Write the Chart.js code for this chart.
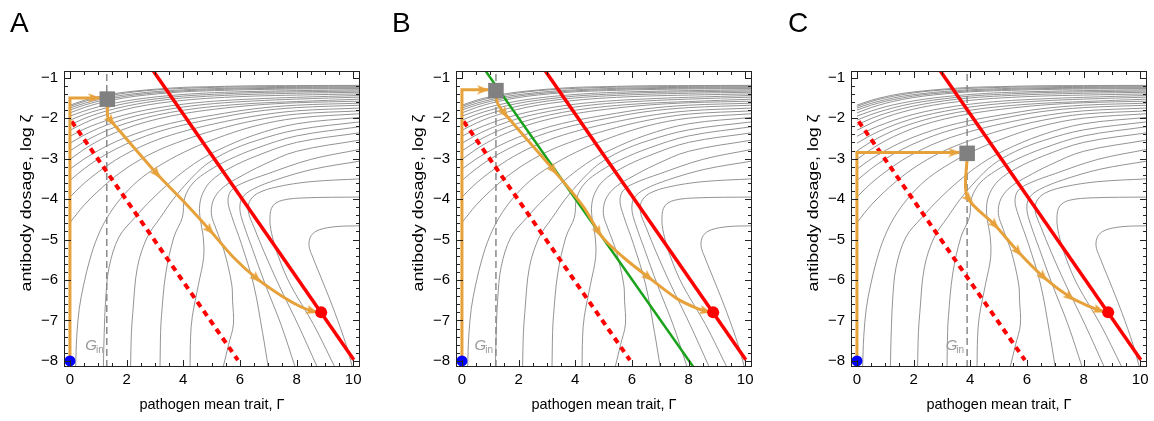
<!DOCTYPE html>
<html>
<head>
<meta charset="utf-8">
<script src="https://cdn.jsdelivr.net/npm/chart.js@4.4.1/dist/chart.umd.min.js"></script>
<style>
  html, body { margin: 0; padding: 0; background: #fff; overflow: hidden; }
  body { width: 1154px; height: 421px; position: relative; font-family: "Liberation Sans", Arial, sans-serif; }
  .panel { position: absolute; top: 0; width: 392px; height: 421px; }
  .letter { position: absolute; top: 9px; font-size: 28px; line-height: 28px; color: #000; }
</style>
</head>
<body>
<div class="panel" style="left:0px"><canvas id="chartA" width="392" height="421"></canvas></div>
<div class="panel" style="left:392px"><canvas id="chartB" width="392" height="421"></canvas></div>
<div class="panel" style="left:787px"><canvas id="chartC" width="392" height="421"></canvas></div>
<div class="letter" style="left:10px">A</div>
<div class="letter" style="left:392px">B</div>
<div class="letter" style="left:788px">C</div>
<script>
(function() {
    'use strict';

    // ===== AXES =====
    const xTicks = [0, 2, 4, 6, 8, 10];
    const yTicks = [-8, -7, -6, -5, -4, -3, -2, -1];
    const xTitle = 'pathogen mean trait, \u0393';
    const yTitle = 'antibody dosage, log \u03b6';

    // ===== GRAY FLOW LINES (same in all panels) =====
    const contourLines = [
        [[0,-1.68],[0.5,-1.56],[1,-1.47],[1.6,-1.39],[2.3,-1.33],[3.1,-1.28],[4,-1.24],[5.1,-1.22],[6.5,-1.2],[8,-1.195],[10.25,-1.19]],
        [[0,-1.71],[0.5,-1.59],[1,-1.5],[1.6,-1.42],[2.3,-1.35],[3.1,-1.3],[4,-1.265],[5.1,-1.24],[6.5,-1.225],[8,-1.215],[10.25,-1.21]],
        [[0,-1.75],[0.5,-1.635],[1,-1.545],[1.6,-1.46],[2.3,-1.395],[3.1,-1.34],[4,-1.3],[5.1,-1.27],[6.5,-1.25],[8,-1.24],[10.25,-1.23]],
        [[0,-1.8],[0.5,-1.68],[1,-1.585],[1.6,-1.5],[2.3,-1.425],[3.1,-1.37],[4,-1.325],[5.1,-1.295],[6.5,-1.27],[8,-1.26],[10.25,-1.25]],
        [[0,-1.87],[0.5,-1.74],[1,-1.635],[1.6,-1.54],[2.3,-1.46],[3.1,-1.4],[4,-1.35],[5.1,-1.32],[6.5,-1.295],[8,-1.28],[10.25,-1.27]],
        [[0,-1.95],[0.5,-1.825],[1,-1.72],[1.6,-1.625],[2.3,-1.54],[3.1,-1.47],[4,-1.415],[5.1,-1.37],[6.5,-1.34],[8,-1.32],[10.25,-1.3]],
        [[0,-2.05],[0.5,-1.91],[1,-1.8],[1.6,-1.69],[2.3,-1.595],[3.1,-1.52],[4,-1.455],[5.1,-1.41],[6.5,-1.37],[8,-1.35],[10.25,-1.33]],
        [[0,-2.17],[0.5,-2.01],[1,-1.885],[1.6,-1.765],[2.3,-1.66],[3.1,-1.57],[4,-1.5],[5.1,-1.45],[6.5,-1.41],[8,-1.385],[10.25,-1.36]],
        [[0,-2.3],[0.5,-2.125],[1,-1.98],[1.6,-1.85],[2.3,-1.73],[3.1,-1.635],[4,-1.56],[5.1,-1.5],[6.5,-1.455],[8,-1.43],[10.25,-1.4]],
        [[0,-2.45],[0.5,-2.27],[1,-2.13],[1.6,-1.985],[2.3,-1.855],[3.1,-1.745],[4,-1.655],[5.1,-1.58],[6.5,-1.525],[8,-1.485],[10.25,-1.44]],
        [[0,-2.62],[0.5,-2.42],[1,-2.255],[1.6,-2.095],[2.3,-1.95],[3.1,-1.83],[4,-1.725],[5.1,-1.64],[6.5,-1.575],[8,-1.53],[10.25,-1.48]],
        [[0,-2.81],[0.5,-2.585],[1,-2.4],[1.6,-2.22],[2.3,-2.06],[3.1,-1.92],[4,-1.805],[5.1,-1.71],[6.5,-1.635],[8,-1.59],[10.25,-1.53]],
        [[0,-3.02],[0.5,-2.77],[1,-2.56],[1.6,-2.36],[2.3,-2.175],[3.1,-2.02],[4,-1.89],[5.1,-1.78],[6.5,-1.68],[8,-1.62],[10.25,-1.58]],
        [[0,-3.26],[0.5,-3.01],[1,-2.8],[1.6,-2.585],[2.3,-2.39],[3.1,-2.21],[4,-2.06],[5.1,-1.92],[6.5,-1.77],[8,-1.68],[10.25,-1.63]],
        [[0,-3.54],[0.5,-3.25],[1,-3.01],[1.6,-2.77],[2.3,-2.545],[3.1,-2.34],[4,-2.17],[5.1,-2.01],[6.5,-1.84],[8,-1.74],[10.25,-1.68]],
        [[0,-3.95],[0.5,-3.61],[1,-3.33],[1.6,-3.04],[2.3,-2.77],[3.1,-2.53],[4,-2.33],[5.1,-2.14],[6.5,-1.95],[8,-1.82],[10.25,-1.75]],
        [[0,-4.58],[0.5,-4.15],[1,-3.8],[1.6,-3.44],[2.3,-3.1],[3.1,-2.8],[4,-2.55],[5.1,-2.3],[6.5,-2.06],[8,-1.9],[10.25,-1.82]],
        [[0.2,-8.15],[0.24,-7.4],[0.33,-6.7],[0.49,-6.1],[0.7,-5.5],[0.97,-4.94],[1.32,-4.45],[1.8,-3.98],[2.4,-3.55],[3.1,-3.2],[4,-2.85],[5.1,-2.52],[6.5,-2.2],[8,-2],[10.25,-1.89]],
        [[1.18,-8.15],[1.21,-7.3],[1.26,-6.5],[1.38,-5.69],[1.73,-4.94],[2.3,-4.45],[2.9,-4],[3.6,-3.55],[4.4,-3.12],[5.2,-2.8],[6.5,-2.42],[8,-2.14],[10.25,-1.98]],
        [[2.14,-8.15],[2.17,-7.3],[2.22,-6.8],[2.38,-5.69],[2.73,-4.94],[3.2,-4.45],[3.65,-4],[4.2,-3.55],[4.8,-3.15],[5.6,-2.82],[6.6,-2.55],[8,-2.29],[10.25,-2.09]],
        [[3.18,-8.15],[3.2,-7.3],[3.23,-6.9],[3.38,-5.85],[3.67,-4.94],[3.97,-4.45],[4.05,-3.97],[4.35,-3.6],[4.9,-3.3],[5.6,-3.03],[6.6,-2.74],[8,-2.44],[10.25,-2.21]],
        [[4.24,-8.15],[4.26,-7.4],[4.32,-6.9],[4.54,-6.1],[4.72,-5.44],[4.7,-4.9],[4.6,-4.5],[4.58,-4.15],[4.7,-3.84],[5,-3.54],[5.6,-3.25],[6.6,-2.93],[8,-2.6],[10.25,-2.36]],
        [[5.41,-8.15],[5.6,-7.6],[5.77,-7.1],[5.74,-6.5],[5.71,-6.1],[5.45,-5.3],[5.15,-4.72],[5.0,-4.4],[5.02,-4.12],[5.18,-3.88],[5.5,-3.66],[6,-3.45],[6.8,-3.16],[8,-2.82],[10.25,-2.54]],
        [[7,-8.15],[6.8,-7.3],[6.48,-6.1],[6.05,-5.1],[5.7,-4.4],[5.58,-4.05],[5.68,-3.8],[6.05,-3.62],[7,-3.37],[8.5,-3.02],[10.25,-2.77]],
        [[7.95,-8.15],[7.45,-7.1],[6.89,-6.1],[6.45,-5.25],[6.12,-4.6],[6.0,-4.25],[6.08,-3.97],[6.45,-3.76],[7.3,-3.52],[8.6,-3.26],[10.25,-3.06]],
        [[8.73,-8.15],[8.05,-7.1],[7.36,-6.1],[6.85,-5.3],[6.5,-4.7],[6.3,-4.32],[6.34,-4.06],[6.62,-3.86],[7.3,-3.7],[8.5,-3.57],[10.25,-3.5]],
        [[9.35,-8.15],[8.6,-7.1],[7.77,-6.1],[7.35,-5.4],[7.12,-4.85],[7.06,-4.46],[7.16,-4.17],[7.5,-4.03],[8.3,-3.97],[10.25,-3.95]],
        [[9.97,-8.15],[9.75,-7.6],[9.35,-6.8],[8.9,-6],[8.58,-5.45],[8.44,-5.15],[8.52,-4.9],[8.8,-4.76],[9.4,-4.68],[10.25,-4.66]]
    ];

    // ===== SHARED LINES AND POINTS =====
    const redLine = [[2.88, -0.77], [10.02, -7.97]];
    const redDashed = [[0.06, -2.08], [5.93, -7.98]];
    const greenLine = [[0.81, -0.81], [8.17, -8.15]];
    const startPoint = [[0, -8]];
    const endPoint = [[8.87, -6.8]];

    // ===== PANEL A =====
    const ginA = 1.3;
    const squareA = [[1.32, -1.53]];
    const legA = [[0, -8], [0, -1.5], [1.05, -1.5]];
    const descentA = [[1.33,-1.6],[1.33,-1.96],[1.45,-2.07],[3.06,-3.37],[4,-4.05],[4.94,-4.77],[5.76,-5.43],[6.59,-5.96],[7.53,-6.42],[8.2,-6.68],[8.59,-6.77],[8.87,-6.8]];
    const arrowsA = [[0.86,-1.5],[1.45,-2.07],[3.06,-3.37],[4.94,-4.77],[6.59,-5.96],[8.55,-6.77]];

    // ===== PANEL B =====
    const ginB = 1.2;
    const squareB = [[1.2, -1.32]];
    const legB = [[0, -8], [0, -1.3], [0.93, -1.3]];
    const descentB = [[1.22,-1.42],[1.25,-1.62],[1.5,-1.88],[3.23,-3.28],[4.29,-4.19],[4.82,-4.81],[5.11,-5.06],[5.8,-5.5],[6.58,-5.93],[7.59,-6.46],[8.3,-6.7],[8.65,-6.77],[8.87,-6.8]];
    const arrowsB = [[0.75,-1.3],[1.5,-1.88],[3.23,-3.28],[4.82,-4.81],[6.58,-5.93],[8.6,-6.77]];

    // ===== PANEL C =====
    const ginC = 3.89;
    const squareC = [[3.89, -2.87]];
    const legC = [[0, -8], [0, -2.85], [3.62, -2.85]];
    const descentC = [[3.89,-2.95],[3.89,-3.94],[4.87,-4.64],[5.69,-5.3],[6.58,-5.92],[7.52,-6.42],[8.2,-6.65],[8.58,-6.75],[8.87,-6.8]];
    const arrowsC = [[3.44,-2.85],[3.95,-3.99],[4.87,-4.64],[5.69,-5.3],[6.58,-5.92],[7.52,-6.42],[8.55,-6.75]];

    const ORANGE = '#e6a13a';
    const FONT = '"Liberation Sans", Arial, sans-serif';

    // arrow head, pointing up, used as point style
    const arrowImg = document.createElement('canvas');
    arrowImg.width = 10;
    arrowImg.height = 12;
    const g = arrowImg.getContext('2d');
    g.fillStyle = ORANGE;
    g.beginPath();
    g.moveTo(5, 0);
    g.lineTo(9.6, 12);
    g.lineTo(5, 9);
    g.lineTo(0.4, 12);
    g.closePath();
    g.fill();

    function arrowAngle(c, paths) {
        if (!c.raw) return 0;
        const xs = c.chart.scales.x, ys = c.chart.scales.y;
        const px = xs.getPixelForValue(c.raw[0]), py = ys.getPixelForValue(c.raw[1]);
        let best = [1, 0], bd = Infinity;
        paths.forEach(path => {
            for (let i = 0; i < path.length - 1; i++) {
                const ax = xs.getPixelForValue(path[i][0]), ay = ys.getPixelForValue(path[i][1]);
                const dx = xs.getPixelForValue(path[i + 1][0]) - ax;
                const dy = ys.getPixelForValue(path[i + 1][1]) - ay;
                const L = dx * dx + dy * dy;
                if (!L) continue;
                let t = ((px - ax) * dx + (py - ay) * dy) / L;
                t = Math.max(0, Math.min(1, t));
                const d = Math.hypot(px - ax - t * dx, py - ay - t * dy);
                if (d < bd) { bd = d; best = [dx, dy]; }
            }
        });
        return Math.atan2(best[0], -best[1]) * 180 / Math.PI;
    }

    function line(data, color, width, order, extra) {
        return Object.assign({
            data: data, showLine: true, borderColor: color, borderWidth: width,
            pointRadius: 0, fill: false, tension: 0, order: order
        }, extra || {});
    }

    function dot(data, color, radius, order, extra) {
        return Object.assign({
            data: data, showLine: false, pointRadius: radius, pointBackgroundColor: color,
            pointBorderWidth: 0, order: order
        }, extra || {});
    }

    // ===== FRAME WITH INNER TICKS =====
    const framePlugin = {
        id: 'frame',
        afterDatasetsDraw(chart) {
            const {ctx, chartArea: a, scales: {x, y}} = chart;
            ctx.save();
            ctx.strokeStyle = '#222';
            ctx.lineWidth = 1;
            ctx.strokeRect(a.left + 0.5, a.top + 0.5, a.right - a.left - 1, a.bottom - a.top - 1);
            ctx.beginPath();
            for (let i = 0; i <= 20; i++) {
                const v = i * 0.5;
                const len = xTicks.includes(v) ? 7 : 4;
                const p = Math.round(x.getPixelForValue(v)) + 0.5;
                ctx.moveTo(p, a.bottom); ctx.lineTo(p, a.bottom - len);
                ctx.moveTo(p, a.top); ctx.lineTo(p, a.top + len);
            }
            for (let i = 0; i <= 35; i++) {
                const v = -8 + i * 0.2;
                const len = Math.abs(v - Math.round(v)) < 1e-6 ? 7 : 4;
                const p = Math.round(y.getPixelForValue(v)) + 0.5;
                ctx.moveTo(a.left, p); ctx.lineTo(a.left + len, p);
                ctx.moveTo(a.right, p); ctx.lineTo(a.right - len, p);
            }
            ctx.stroke();

            // y axis title, drawn a bit stretched along its length like the original
            ctx.fillStyle = '#000';
            ctx.font = '14px ' + FONT;
            ctx.textAlign = 'center';
            ctx.textBaseline = 'middle';
            ctx.translate(27, 203);
            ctx.rotate(-Math.PI / 2);
            ctx.scale(1.27, 1);
            ctx.fillText(yTitle, 0, 0);
            ctx.restore();
        }
    };

    // ===== G_in LABEL =====
    const ginPlugin = {
        id: 'gin',
        afterDatasetsDraw(chart, args, opts) {
            const {ctx, scales: {x, y}} = chart;
            const right = x.getPixelForValue(opts.at) - 3;
            const base = y.getPixelForValue(-7.74);
            ctx.save();
            ctx.fillStyle = '#9a9a9a';
            ctx.textBaseline = 'alphabetic';
            ctx.font = '10px ' + FONT;
            const wi = ctx.measureText('in').width;
            ctx.fillText('in', right - wi, base + 3);
            ctx.font = 'italic 15px ' + FONT;
            const wg = ctx.measureText('G').width;
            ctx.fillText('G', right - wi - wg + 1, base);
            ctx.restore();
        }
    };

    function fmt(v) {
        return String(v).replace('-', '\u2212');
    }

    function makeChart(id, gin, square, leg, descent, arrows, withGreen) {
        const datasets = contourLines.map(c => line(c, '#808080', 0.85, 20, {tension: 0.35}));
        datasets.push(line([[gin, -8.15], [gin, -0.835]], '#8a8a8a', 1.5, 12, {borderDash: [7, 4]}));
        datasets.push(line(redDashed, '#ff0000', 4, 11, {borderDash: [6, 5]}));
        if (withGreen) datasets.push(line(greenLine, '#1aa31a', 2.5, 10));
        datasets.push(line(redLine, '#ff0000', 3.5, 9));
        datasets.push(line(leg, ORANGE, 3, 7));
        datasets.push(line(descent, ORANGE, 3, 7, {tension: 0.3}));
        datasets.push(dot(arrows, ORANGE, 6, 6, {
            pointStyle: arrowImg,
            rotation: c => arrowAngle(c, [leg, descent])
        }));
        datasets.push(dot(square, '#808080', 11, 5, {pointStyle: 'rect'}));
        datasets.push(dot(startPoint, '#0000ff', 5.5, 4));
        datasets.push(dot(endPoint, '#ff0000', 6, 4));

        new Chart(document.getElementById(id), {
            type: 'scatter',
            data: {datasets: datasets},
            options: {
                responsive: false,
                animation: false,
                events: [],
                layout: {padding: {left: 0, right: 32, top: 71, bottom: 0}},
                plugins: {
                    legend: {display: false},
                    tooltip: {enabled: false},
                    gin: {at: gin}
                },
                scales: {
                    x: {
                        type: 'linear',
                        min: -0.21,
                        max: 10.24,
                        afterFit: s => { s.height = 54; },
                        afterBuildTicks: s => { s.ticks = xTicks.map(v => ({value: v})); },
                        grid: {display: false, drawTicks: false},
                        border: {display: false},
                        ticks: {
                            padding: 4, color: '#000', maxRotation: 0, autoSkip: false,
                            font: {family: FONT, size: 15},
                            callback: v => fmt(v)
                        },
                        title: {
                            display: true, text: xTitle, color: '#000',
                            font: {family: FONT, size: 14.5}, padding: {top: 0, bottom: 7}
                        }
                    },
                    y: {
                        type: 'linear',
                        min: -8.15,
                        max: -0.835,
                        afterFit: s => { s.width = 64; },
                        afterBuildTicks: s => { s.ticks = yTicks.map(v => ({value: v})); },
                        grid: {display: false, drawTicks: false},
                        border: {display: false},
                        ticks: {
                            padding: 6, color: '#000', autoSkip: false,
                            font: {family: FONT, size: 15},
                            callback: v => fmt(v)
                        }
                    }
                }
            },
            plugins: [framePlugin, ginPlugin]
        });
    }

    makeChart('chartA', ginA, squareA, legA, descentA, arrowsA, false);
    makeChart('chartB', ginB, squareB, legB, descentB, arrowsB, true);
    makeChart('chartC', ginC, squareC, legC, descentC, arrowsC, false);
})();
</script>
</body>
</html>
